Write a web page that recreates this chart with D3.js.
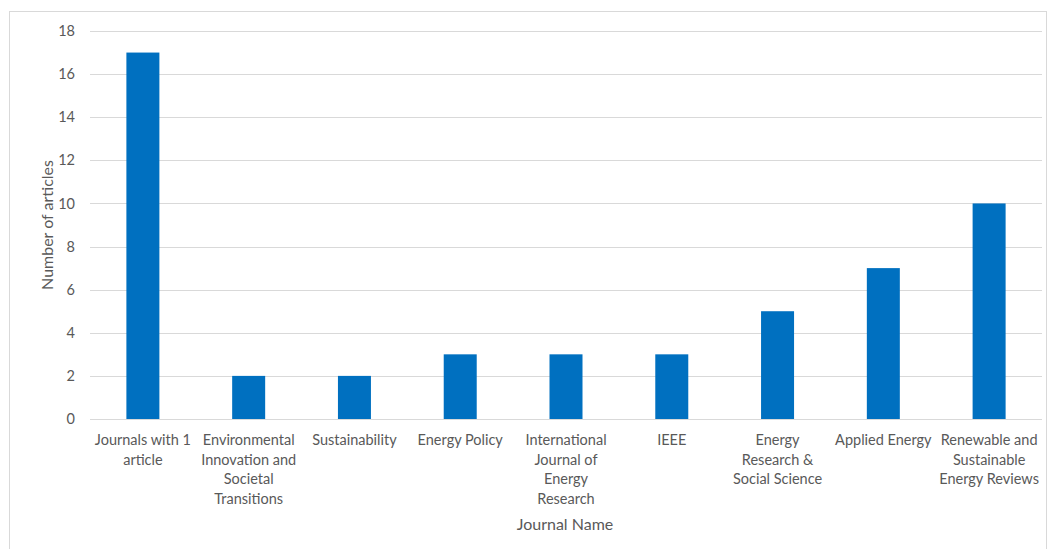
<!DOCTYPE html>
<html>
<head>
<meta charset="utf-8">
<script src="https://cdnjs.cloudflare.com/ajax/libs/d3/7.8.5/d3.min.js"></script>
<style>
  body { margin: 0; background: #fff; }
  svg text { font-family: Lato, "Noto Sans", sans-serif; fill: #595959; }
</style>
</head>
<body>
<svg id="chart" width="1051" height="549"></svg>
<script>
// journal names (\n marks where the label wraps)
var categories = [
  "Journals with 1\narticle",
  "Environmental\nInnovation and\nSocietal\nTransitions",
  "Sustainability",
  "Energy Policy",
  "International\nJournal of\nEnergy\nResearch",
  "IEEE",
  "Energy\nResearch &\nSocial Science",
  "Applied Energy",
  "Renewable and\nSustainable\nEnergy Reviews"
];
var articles = [17, 2, 2, 3, 3, 3, 5, 7, 10];
var yTicks = [0, 2, 4, 6, 8, 10, 12, 14, 16, 18];

var svg = d3.select("#chart");

// outer frame
svg.append("rect")
  .attr("x", 9.5).attr("y", 11.5)
  .attr("width", 1037).attr("height", 545)
  .attr("fill", "none").attr("stroke", "#d9d9d9");

var plotLeft = 90, plotRight = 1042, plotTop = 31, plotBottom = 419;

var x = d3.scaleBand()
  .domain(categories)
  .range([plotLeft, plotRight]);

var y = d3.scaleLinear()
  .domain([0, 18])
  .range([plotBottom, plotTop]);

// gridlines
svg.append("g")
  .selectAll("line")
  .data(yTicks)
  .enter().append("line")
  .attr("x1", plotLeft).attr("x2", plotRight)
  .attr("y1", function(d){ return Math.round(y(d)) + 0.5; })
  .attr("y2", function(d){ return Math.round(y(d)) + 0.5; })
  .attr("stroke", "#d9d9d9")
  .attr("stroke-width", 1);

// y tick labels
svg.append("g")
  .selectAll("text")
  .data(yTicks)
  .enter().append("text")
  .attr("x", 75)
  .attr("y", function(d){ return y(d); })
  .attr("dy", "0.35em")
  .attr("text-anchor", "end")
  .style("font-size", "14.5px")
  .text(function(d){ return d; });

// bars
var barWidth = 33;
svg.append("g")
  .selectAll("rect")
  .data(articles)
  .enter().append("rect")
  .attr("x", function(d, i){ return x(categories[i]) + x.bandwidth() / 2 - barWidth / 2; })
  .attr("y", function(d){ return y(d); })
  .attr("width", barWidth)
  .attr("height", function(d){ return y(0) - y(d); })
  .attr("fill", "#0070c0");

// category labels
var lab = svg.append("g")
  .selectAll("text")
  .data(categories)
  .enter().append("text")
  .attr("text-anchor", "middle")
  .style("font-size", "14.5px")
  .attr("transform", function(d){ return "translate(" + (x(d) + x.bandwidth() / 2) + ",445)"; });

lab.selectAll("tspan")
  .data(function(d){ return d.split("\n"); })
  .enter().append("tspan")
  .attr("x", 0)
  .attr("dy", function(d, i){ return i == 0 ? 0 : 19.5; })
  .text(function(d){ return d; });

// axis titles
svg.append("text")
  .attr("x", 565)
  .attr("y", 530)
  .attr("text-anchor", "middle")
  .style("font-size", "16px")
  .text("Journal Name");

svg.append("text")
  .attr("transform", "translate(53,225) rotate(-90)")
  .attr("text-anchor", "middle")
  .style("font-size", "16px")
  .text("Number of articles");
</script>
</body>
</html>
